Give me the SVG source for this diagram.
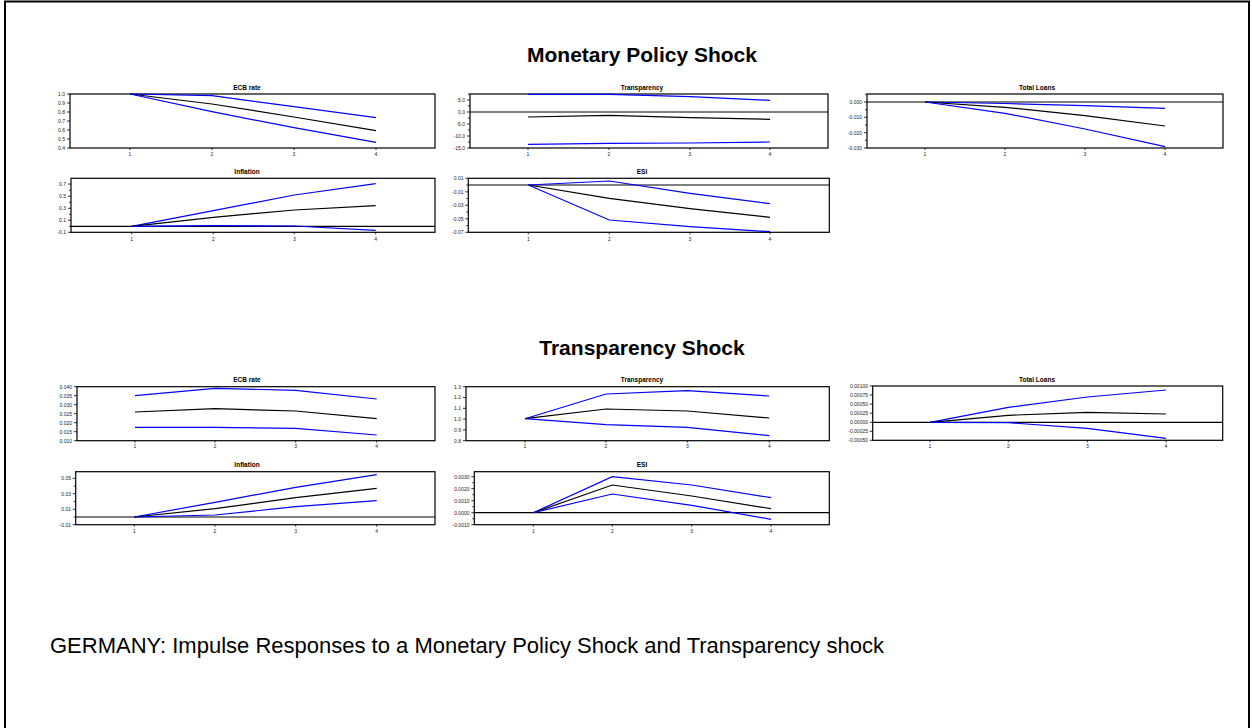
<svg xmlns="http://www.w3.org/2000/svg" width="1252" height="728" viewBox="0 0 1252 728">
<style>
.bg{fill:#fff}
.border{fill:none;stroke:#000;stroke-width:2}
.frame{fill:none;stroke:#000;stroke-width:1.2}
.zero{stroke:#000;stroke-width:1.2}
.est{fill:none;stroke:#000;stroke-width:1.2}
.band{fill:none;stroke:#0000ff;stroke-width:1.2}
.tick{stroke:#000;stroke-width:0.8;fill:none}
.ttl{font-family:"Liberation Sans",Arial,sans-serif;font-weight:bold;font-size:6.5px;text-anchor:middle;fill:#000}
.yl{font-family:"Liberation Sans",Arial,sans-serif;font-size:5px;text-anchor:end;fill:#222}
.xl{font-family:"Liberation Sans",Arial,sans-serif;font-size:5px;text-anchor:middle;fill:#222}
.head{font-family:"Liberation Sans",Arial,sans-serif;font-weight:bold;font-size:21px;text-anchor:middle;fill:#000}
.cap{font-family:"Liberation Sans",Arial,sans-serif;font-size:22px;fill:#000}
</style>
<rect class="bg" x="0" y="0" width="1252" height="728"/>
<rect class="border" x="5" y="1.5" width="1244" height="740"/>

<text class="head" x="642" y="62">Monetary Policy Shock</text>
<text class="head" x="642" y="355">Transparency Shock</text>
<text class="cap" x="50" y="653">GERMANY: Impulse Responses to a Monetary Policy Shock and Transparency shock</text>

<!-- Chart 1: ECB rate (MP shock) -->
<g id="mp-ecb">
<rect class="frame" x="70" y="94" width="365" height="54"/>
<text class="ttl" x="247" y="89.5">ECB rate</text>
<path class="tick" d="M67,94H70M67,103H70M67,112H70M67,121H70M67,130H70M67,139H70M67,148H70M130,148V150M212,148V150M294,148V150M376,148V150"/>
<g class="yl"><text x="65" y="95.8">1.0</text><text x="65" y="104.8">0.9</text><text x="65" y="113.8">0.8</text><text x="65" y="122.8">0.7</text><text x="65" y="131.8">0.6</text><text x="65" y="140.8">0.5</text><text x="65" y="149.8">0.4</text></g>
<g class="xl"><text x="130" y="156">1</text><text x="212" y="156">2</text><text x="294" y="156">3</text><text x="376" y="156">4</text></g>
<polyline class="band" points="130,94 212,95.7 294,106.7 376,117.7"/>
<polyline class="est" points="130,94 212,104 294,117 376,130.7"/>
<polyline class="band" points="130,94 212,111.7 294,127.7 376,142.3"/>
</g>

<!-- Chart 2: Transparency (MP shock) -->
<g id="mp-transparency">
<rect class="frame" x="470" y="94" width="358" height="54"/>
<line class="zero" x1="470" y1="112" x2="828" y2="112"/>
<text class="ttl" x="642" y="89.5">Transparency</text>
<path class="tick" d="M467,100H470M467,112H470M467,124H470M467,136H470M467,148H470M468,94H470M468,106H470M468,118H470M468,130H470M468,142H470M528,148V150M609,148V150M690,148V150M770,148V150"/>
<g class="yl"><text x="465" y="101.8">5.0</text><text x="465" y="113.8">0.0</text><text x="465" y="125.8">-5.0</text><text x="465" y="137.8">-10.0</text><text x="465" y="149.8">-15.0</text></g>
<g class="xl"><text x="528" y="156">1</text><text x="609" y="156">2</text><text x="690" y="156">3</text><text x="770" y="156">4</text></g>
<polyline class="band" points="528,94.3 609,94.3 690,96.7 770,100.3"/>
<polyline class="est" points="528,117 609,115.3 690,117.7 770,119.3"/>
<polyline class="band" points="528,144.3 609,143.3 690,143 770,142"/>
</g>

<!-- Chart 3: Total Loans (MP shock) -->
<g id="mp-loans">
<rect class="frame" x="867" y="94" width="356" height="54"/>
<line class="zero" x1="867" y1="102" x2="1223" y2="102"/>
<text class="ttl" x="1037" y="89.5">Total Loans</text>
<path class="tick" d="M864,102H867M864,117.3H867M864,132.7H867M864,148H867M865,94.3H867M865,109.7H867M865,125H867M865,140.3H867M925,148V150M1005,148V150M1085,148V150M1165,148V150"/>
<g class="yl"><text x="862" y="103.8">0.000</text><text x="862" y="119.1">-0.010</text><text x="862" y="134.5">-0.020</text><text x="862" y="149.8">-0.030</text></g>
<g class="xl"><text x="925" y="156">1</text><text x="1005" y="156">2</text><text x="1085" y="156">3</text><text x="1165" y="156">4</text></g>
<polyline class="band" points="925,102 1005,103.5 1085,105.7 1165,108.3"/>
<polyline class="est" points="925,102 1005,107.3 1085,115.7 1165,126"/>
<polyline class="band" points="925,102 1005,113.3 1085,129 1165,146.7"/>
</g>

<!-- Chart 4: Inflation (MP shock) -->
<g id="mp-inflation">
<rect class="frame" x="71" y="178.3" width="364" height="54"/>
<line class="zero" x1="71" y1="226.3" x2="435" y2="226.3"/>
<text class="ttl" x="247" y="174">Inflation</text>
<path class="tick" d="M68,184H71M68,196.3H71M68,208.3H71M68,220.3H71M68,232.3H71M69,190.2H71M69,202.3H71M69,214.3H71M69,226.3H71M131.7,232.3V234.3M213.3,232.3V234.3M294.3,232.3V234.3M375.7,232.3V234.3"/>
<g class="yl"><text x="66" y="185.8">0.7</text><text x="66" y="198.1">0.5</text><text x="66" y="210.1">0.3</text><text x="66" y="222.1">0.1</text><text x="66" y="234.1">-0.1</text></g>
<g class="xl"><text x="131.7" y="240.5">1</text><text x="213.3" y="240.5">2</text><text x="294.3" y="240.5">3</text><text x="375.7" y="240.5">4</text></g>
<polyline class="band" points="131.7,226.3 213.3,210.7 294.3,195 375.7,183.7"/>
<polyline class="est" points="131.7,226.3 213.3,217.3 294.3,210 375.7,205.7"/>
<polyline class="band" points="131.7,226.3 213.3,225.7 294.3,226 375.7,230.3"/>
</g>

<!-- Chart 5: ESI (MP shock) -->
<g id="mp-esi">
<rect class="frame" x="468.3" y="178.3" width="361" height="54"/>
<line class="zero" x1="468.3" y1="185" x2="829.3" y2="185"/>
<text class="ttl" x="642" y="174">ESI</text>
<path class="tick" d="M465.3,178.3H468.3M465.3,191.8H468.3M465.3,205.3H468.3M465.3,218.8H468.3M465.3,232.3H468.3M466.3,185H468.3M466.3,198.5H468.3M466.3,212H468.3M466.3,225.5H468.3M528.3,232.3V234.3M609.3,232.3V234.3M690,232.3V234.3M770,232.3V234.3"/>
<g class="yl"><text x="463.5" y="180.1">0.01</text><text x="463.5" y="193.6">-0.01</text><text x="463.5" y="207.1">-0.03</text><text x="463.5" y="220.6">-0.05</text><text x="463.5" y="234.1">-0.07</text></g>
<g class="xl"><text x="528.3" y="240.5">1</text><text x="609.3" y="240.5">2</text><text x="690" y="240.5">3</text><text x="770" y="240.5">4</text></g>
<polyline class="band" points="528.3,185 609.3,181 690,193.3 770,203.7"/>
<polyline class="est" points="528.3,185 609.3,198.3 690,208.7 770,217.3"/>
<polyline class="band" points="528.3,185 609.3,220 690,226.7 770,231.7"/>
</g>

<!-- Chart 6: ECB rate (Transparency shock) -->
<g id="tr-ecb">
<rect class="frame" x="77" y="386.7" width="358" height="54"/>
<text class="ttl" x="247" y="382">ECB rate</text>
<path class="tick" d="M74,386.7H77M74,395.7H77M74,404.7H77M74,413.7H77M74,422.7H77M74,431.7H77M74,440.7H77M135,440.7V442.7M215,440.7V442.7M295.7,440.7V442.7M376.7,440.7V442.7"/>
<g class="yl"><text x="72" y="388.5">0.040</text><text x="72" y="397.5">0.035</text><text x="72" y="406.5">0.030</text><text x="72" y="415.5">0.025</text><text x="72" y="424.5">0.020</text><text x="72" y="433.5">0.015</text><text x="72" y="442.5">0.010</text></g>
<g class="xl"><text x="135" y="448">1</text><text x="215" y="448">2</text><text x="295.7" y="448">3</text><text x="376.7" y="448">4</text></g>
<polyline class="band" points="135,395.7 215,388.3 295.7,390.3 376.7,399"/>
<polyline class="est" points="135,412 215,408.7 295.7,411 376.7,418.7"/>
<polyline class="band" points="135,427.3 215,427.3 295.7,428.3 376.7,435"/>
</g>

<!-- Chart 7: Transparency (Transparency shock) -->
<g id="tr-transparency">
<rect class="frame" x="466" y="386.7" width="363.3" height="54"/>
<text class="ttl" x="642" y="382">Transparency</text>
<path class="tick" d="M463,386.7H466M463,397.5H466M463,408.3H466M463,419.1H466M463,429.9H466M463,440.7H466M525,440.7V442.7M606,440.7V442.7M687.3,440.7V442.7M769.3,440.7V442.7"/>
<g class="yl"><text x="461" y="388.5">1.3</text><text x="461" y="399.3">1.2</text><text x="461" y="410.1">1.1</text><text x="461" y="420.9">1.0</text><text x="461" y="431.7">0.9</text><text x="461" y="442.5">0.8</text></g>
<g class="xl"><text x="525" y="448">1</text><text x="606" y="448">2</text><text x="687.3" y="448">3</text><text x="769.3" y="448">4</text></g>
<polyline class="band" points="525,418.7 606,394 687.3,390.7 769.3,396"/>
<polyline class="est" points="525,418.7 606,409 687.3,411 769.3,418"/>
<polyline class="band" points="525,418.7 606,424.7 687.3,427.3 769.3,435.7"/>
</g>

<!-- Chart 8: Total Loans (Transparency shock) -->
<g id="tr-loans">
<rect class="frame" x="872.7" y="386" width="350" height="54.3"/>
<line class="zero" x1="872.7" y1="422.3" x2="1222.7" y2="422.3"/>
<text class="ttl" x="1037" y="382">Total Loans</text>
<path class="tick" d="M869.7,386H872.7M869.7,395H872.7M869.7,404.1H872.7M869.7,413.2H872.7M869.7,422.3H872.7M869.7,431.3H872.7M869.7,440.3H872.7M930,440.3V442.3M1008.3,440.3V442.3M1087.3,440.3V442.3M1166,440.3V442.3"/>
<g class="yl"><text x="868" y="387.8">0.00100</text><text x="868" y="396.8">0.00075</text><text x="868" y="405.9">0.00050</text><text x="868" y="415">0.00025</text><text x="868" y="424.1">0.00000</text><text x="868" y="433.1">-0.00025</text><text x="868" y="442.1">-0.00050</text></g>
<g class="xl"><text x="930" y="448">1</text><text x="1008.3" y="448">2</text><text x="1087.3" y="448">3</text><text x="1166" y="448">4</text></g>
<polyline class="band" points="930,422.3 1008.3,407.3 1087.3,397 1166,390"/>
<polyline class="est" points="930,422.3 1008.3,415.3 1087.3,412.3 1166,414"/>
<polyline class="band" points="930,422.3 1008.3,422.7 1087.3,428.3 1166,438.3"/>
</g>

<!-- Chart 9: Inflation (Transparency shock) -->
<g id="tr-inflation">
<rect class="frame" x="75.7" y="471.7" width="359.3" height="53"/>
<line class="zero" x1="75.7" y1="517" x2="435" y2="517"/>
<text class="ttl" x="247" y="466.5">Inflation</text>
<path class="tick" d="M72.7,478.3H75.7M72.7,493.7H75.7M72.7,509.3H75.7M72.7,524.7H75.7M73.7,486H75.7M73.7,501.5H75.7M73.7,517H75.7M134.3,524.7V526.7M215,524.7V526.7M295.7,524.7V526.7M376.7,524.7V526.7"/>
<g class="yl"><text x="71" y="480.1">0.05</text><text x="71" y="495.5">0.03</text><text x="71" y="511.1">0.01</text><text x="71" y="526.5">-0.01</text></g>
<g class="xl"><text x="134.3" y="532.5">1</text><text x="215" y="532.5">2</text><text x="295.7" y="532.5">3</text><text x="376.7" y="532.5">4</text></g>
<polyline class="band" points="134.3,517 215,502.3 295.7,487.3 376.7,474.7"/>
<polyline class="est" points="134.3,517 215,508.7 295.7,497.7 376.7,488.3"/>
<polyline class="band" points="134.3,517 215,515 295.7,506.7 376.7,500.7"/>
</g>

<!-- Chart 10: ESI (Transparency shock) -->
<g id="tr-esi">
<rect class="frame" x="474.3" y="471.7" width="355" height="53"/>
<line class="zero" x1="474.3" y1="512.7" x2="829.3" y2="512.7"/>
<text class="ttl" x="642" y="466.5">ESI</text>
<path class="tick" d="M471.3,476.7H474.3M471.3,488.7H474.3M471.3,500.7H474.3M471.3,512.7H474.3M471.3,524.7H474.3M472.3,482.7H474.3M472.3,494.7H474.3M472.3,506.7H474.3M472.3,518.7H474.3M533.3,524.7V526.7M612.3,524.7V526.7M691.7,524.7V526.7M771,524.7V526.7"/>
<g class="yl"><text x="469.5" y="478.5">0.0030</text><text x="469.5" y="490.5">0.0020</text><text x="469.5" y="502.5">0.0010</text><text x="469.5" y="514.5">0.0000</text><text x="469.5" y="526.5">-0.0010</text></g>
<g class="xl"><text x="533.3" y="532.5">1</text><text x="612.3" y="532.5">2</text><text x="691.7" y="532.5">3</text><text x="771" y="532.5">4</text></g>
<polyline class="band" points="533.3,512.7 612.3,476.7 691.7,485 771,497.7"/>
<polyline class="est" points="533.3,512.7 612.3,485 691.7,496 771,508.7"/>
<polyline class="band" points="533.3,512.7 612.3,494 691.7,505.3 771,519.3"/>
</g>
</svg>
